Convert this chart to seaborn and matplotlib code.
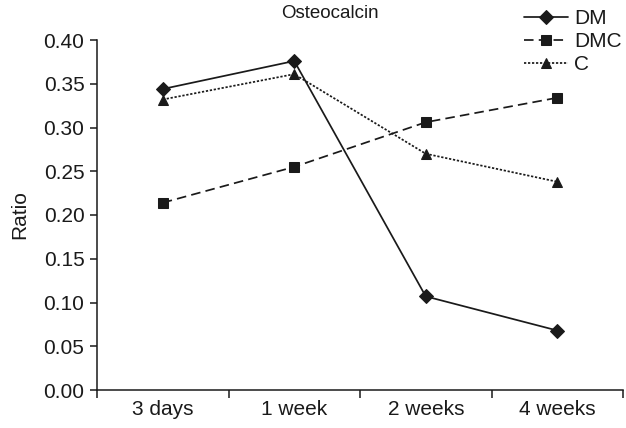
import matplotlib
matplotlib.use("Agg")
import matplotlib.pyplot as plt
from matplotlib.ticker import FixedLocator, NullFormatter, FixedFormatter
import seaborn as sns
import pandas as pd

# Osteocalcin expression ratio over time for each group
timepoints = ["3 days", "1 week", "2 weeks", "4 weeks"]
dm_values = [0.344, 0.376, 0.107, 0.068]
dmc_values = [0.214, 0.255, 0.306, 0.334]
c_values = [0.332, 0.361, 0.270, 0.238]
groups = ["DM", "DMC", "C"]
y_ticks = [0.00, 0.05, 0.10, 0.15, 0.20, 0.25, 0.30, 0.35, 0.40]

df = pd.DataFrame({
    "time": timepoints * 3,
    "ratio": dm_values + dmc_values + c_values,
    "group": ["DM"] * 4 + ["DMC"] * 4 + ["C"] * 4,
})

sns.set_theme(style="white")
plt.rcParams["font.family"] = ["Liberation Sans", "DejaVu Sans"]

fig = plt.figure(figsize=(6.26, 4.28), dpi=100)
ax = fig.add_axes([97 / 626, 38 / 428, 526 / 626, 350 / 428])

ink = "#1a1a1a"
sns.lineplot(
    data=df, x="time", y="ratio", hue="group", style="group",
    hue_order=groups, style_order=groups,
    palette={g: ink for g in groups},
    markers={"DM": "D", "DMC": "s", "C": "^"},
    dashes={"DM": "", "DMC": (5.5, 3), "C": (1.3, 1.0)},
    markersize=7.5, markeredgecolor=ink, linewidth=1.25,
    sort=False, ax=ax,
)

ax.set_xlim(-0.5, 3.5)
ax.set_ylim(0, 0.40)

# category boundaries carry the tick marks, labels sit between them
ax.xaxis.set_major_locator(FixedLocator([-0.5, 0.5, 1.5, 2.5, 3.5]))
ax.xaxis.set_major_formatter(NullFormatter())
ax.xaxis.set_minor_locator(FixedLocator([0, 1, 2, 3]))
ax.xaxis.set_minor_formatter(FixedFormatter(timepoints))
ax.tick_params(axis="x", which="major", direction="out", length=6, width=1.1,
               color=ink, bottom=True)
ax.tick_params(axis="x", which="minor", length=0, pad=7, labelsize=15,
               labelcolor=ink, bottom=True)

ax.set_yticks(y_ticks)
ax.set_yticklabels([f"{v:.2f}" for v in y_ticks])
ax.tick_params(axis="y", direction="out", length=5, width=1.1, color=ink,
               labelsize=15, labelcolor=ink, pad=4, left=True)

for side in ("top", "right"):
    ax.spines[side].set_visible(False)
for side in ("left", "bottom"):
    ax.spines[side].set_color(ink)
    ax.spines[side].set_linewidth(1.1)

ax.set_xlabel("")
ax.set_ylabel("Ratio", fontsize=15, color=ink, labelpad=10)

fig.text(330 / 626, 1 - 14 / 428, "Osteocalcin", ha="center", va="center",
         fontsize=13.5, color=ink)

handles, labels = ax.get_legend_handles_labels()
ax.legend(handles, labels, loc="upper right",
          bbox_to_anchor=(626 / 626, 1 - 5 / 428), bbox_transform=fig.transFigure,
          frameon=False, fontsize=15, handlelength=2.1, handletextpad=0.3,
          labelspacing=0.2, borderaxespad=0, borderpad=0.2,
          labelcolor=ink)

fig.savefig("out.png", dpi=100)
